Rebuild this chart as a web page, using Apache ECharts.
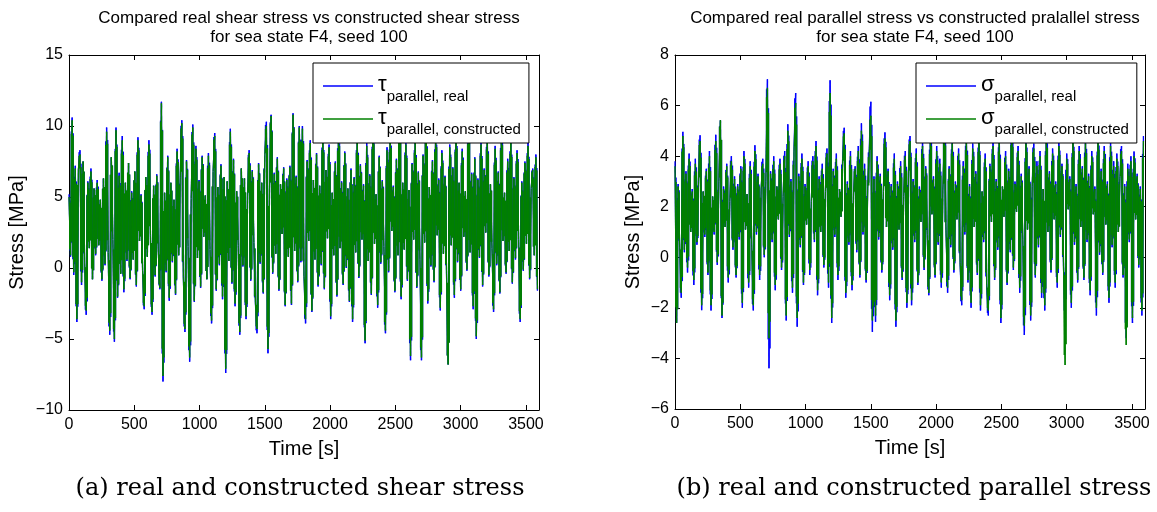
<!DOCTYPE html>
<html>
<head>
<meta charset="utf-8">
<title>Real vs constructed stress</title>
<script src="https://cdn.jsdelivr.net/npm/echarts@6/dist/echarts.min.js"></script>
<style>
  html, body { margin: 0; padding: 0; background: #fff; }
  #chart { width: 1157px; height: 512px; }
</style>
</head>
<body>
<div id="chart"></div>
<script>
const timeStep = 12

const shearReal = [
  5.2, 0.8, 10.6, -0.5, 7.2, -3.8, 6.9, 8.3, -1.2, 7.5, 0.3, -3.3, 6.1, 1.4, 7.0, -0.8, 5.6, 0.9, 6.2, 1.6,
  4.8, -0.9, 6.3, 0.2, 9.9, 1.1, -4.7, 7.8, 2.0, -5.2, 9.9, -2.1, 6.7, -0.4, 9.3, -1.7, 6.0, 0.5, 7.4, -0.8,
  5.4, 0.6, 6.8, -1.3, 9.2, 1.9, 5.2, -0.2, -2.9, 6.4, 0.8, 9.0, 2.3, -3.3, 5.8, -0.6, 6.6, 1.2, -1.5, 11.7,
  -8.0, 5.3, -0.3, 7.9, -2.3, 6.0, 0.4, 4.8, -1.9, 8.4, 0.9, 6.5, 10.4, -0.7, -4.5, 7.6, 1.5, -6.6, 4.9, 10.1,
  -2.4, 8.6, 0.7, 6.2, -1.4, 7.9, 2.2, 5.1, -0.8, 8.1, 1.3, -3.9, 6.8, 9.5, -1.6, 5.7, 0.2, 7.3, -2.2, 6.4,
  -7.4, 6.1, 0.5, 9.8, -1.1, 7.7, -2.7, 5.4, 1.6, -4.7, 7.0, 0.1, 6.3, -3.6, 5.0, 8.3, -0.9, 6.9, 1.8, -2.5,
  -4.6, 7.4, 0.3, 6.0, -1.8, 8.0, 10.3, -6.0, 5.5, 10.8, -0.4, 6.7, 1.0, 7.8, -1.6, 5.9, 2.4, 7.1, -2.7, 6.3,
  0.8, 7.2, -2.6, 10.9, 1.2, 6.5, -1.0, 10.0, 0.4, 10.0, -0.6, -3.9, 7.6, 1.9, 9.0, -3.1, 6.2, 0.6, 8.1, -1.3,
  5.8, 0.2, 9.4, -1.5, 6.9, 2.1, 8.7, -3.6, 5.3, 0.9, 7.5, -2.0, 9.6, 1.4, 6.1, -1.2, 8.2, 0.0, 5.6, -2.4,
  7.0, -3.8, 6.4, 1.1, 9.1, -0.7, 7.3, 2.0, 5.9, -5.3, 8.8, 0.5, 6.6, -1.9, 9.7, 1.7, 5.2, -2.8, 7.9, 0.3,
  6.2, 1.5, -4.6, 8.5, -0.3, 9.3, 2.6, 5.8, -1.7, 7.7, 0.9, 10.2, -2.2, 6.0, 1.3, 8.9, -0.9, 5.5, -6.5, 7.4,
  2.0, 9.0, -1.4, 6.8, 0.6, -6.5, 8.0, 1.8, 9.8, -2.5, 5.7, 0.1, 7.6, -1.0, 9.4, 2.3, 6.3, -3.0, 8.3, 1.0,
  6.5, -0.5, -6.8, 8.7, 1.6, 7.1, -2.1, 9.5, 0.4, 6.0, -1.6, 8.4, 2.2, 5.4, -0.2, 9.9, 1.1, 6.7, -2.9, 7.8,
  -5.0, 6.3, 0.7, 8.9, -1.3, 7.0, 2.5, 9.2, -0.6, 5.9, 1.4, -3.1, 8.6, 0.2, 6.8, -1.8, 9.6, 1.9, 5.3, -0.4,
  7.7, 1.2, 9.0, -1.1, 6.4, 0.6, 8.3, 2.0, -3.8, 6.1, -0.2, 7.5, 1.7, 8.8, -0.8, 5.6, 7.0, 0.9, 8.0, -1.6,
]

const shearConstructed = [
  5.0, 0.9, 10.4, -0.3, 7.0, -3.6, 6.9, 8.0, -1.0, 7.5, 0.4, -3.0, 6.0, 1.4, 6.8, -0.8, 5.6, 1.0, 6.0, 1.6,
  4.8, -0.8, 6.3, 0.3, 9.6, 1.1, -4.4, 7.8, 2.0, -5.0, 9.7, -2.0, 6.5, -0.4, 9.0, -1.5, 6.0, 0.6, 7.4, -0.7,
  5.3, 0.6, 6.8, -1.2, 9.0, 1.9, 5.1, -0.2, -2.7, 6.4, 0.8, 8.7, 2.3, -3.1, 5.8, -0.5, 6.5, 1.2, -1.4, 11.6,
  -7.6, 5.3, -0.2, 7.8, -2.1, 6.0, 0.5, 4.8, -1.8, 8.2, 0.9, 6.4, 10.2, -0.6, -4.3, 7.5, 1.5, -6.3, 4.9, 9.9,
  -2.3, 8.4, 0.7, 6.1, -1.3, 7.8, 2.2, 5.1, -0.8, 7.9, 1.3, -3.7, 6.8, 9.3, -1.5, 5.7, 0.3, 7.2, -2.0, 6.4,
  -7.1, 6.1, 0.5, 9.6, -1.0, 7.6, -2.5, 5.4, 1.6, -4.5, 7.0, 0.2, 6.3, -3.4, 5.0, 8.1, -0.8, 6.8, 1.8, -2.4,
  -4.3, 7.3, 0.4, 6.0, -1.7, 7.9, 10.0, -5.7, 5.5, 10.7, -0.3, 6.6, 1.0, 7.7, -1.5, 5.9, 2.4, 7.0, -2.6, 6.2,
  0.8, 7.1, -2.5, 10.8, 1.2, 6.4, -0.9, 9.9, 0.5, 9.8, -0.5, -3.6, 7.5, 1.9, 8.8, -3.0, 6.2, 0.6, 8.0, -1.2,
  5.8, 0.3, 9.2, -1.4, 6.9, 2.1, 8.5, -3.4, 5.3, 0.9, 7.4, -1.9, 9.4, 1.4, 6.0, -1.1, 8.1, 0.1, 5.6, -2.3,
  6.9, -3.6, 6.3, 1.1, 8.9, -0.6, 7.2, 2.0, 5.8, -5.1, 8.6, 0.5, 6.5, -1.8, 9.5, 1.7, 5.2, -2.6, 7.8, 0.4,
  6.1, 1.5, -4.4, 8.3, -0.2, 9.1, 2.6, 5.7, -1.6, 7.6, 0.9, 10.0, -2.0, 6.0, 1.3, 8.7, -0.8, 5.5, -6.2, 7.3,
  2.0, 8.8, -1.3, 6.7, 0.7, -6.3, 7.9, 1.8, 9.6, -2.3, 5.7, 0.2, 7.5, -0.9, 9.2, 2.3, 6.2, -2.8, 8.1, 1.0,
  6.4, -0.4, -6.8, 8.5, 1.6, 7.0, -1.9, 9.3, 0.5, 6.0, -1.5, 8.2, 2.2, 5.4, -0.1, 9.7, 1.1, 6.6, -2.7, 7.7,
  -4.8, 6.2, 0.8, 8.7, -1.2, 6.9, 2.5, 9.0, -0.5, 5.9, 1.4, -2.9, 8.4, 0.3, 6.7, -1.7, 9.4, 1.9, 5.3, -0.3,
  7.5, 1.2, 8.8, -1.0, 6.3, 0.7, 8.1, 2.0, -3.6, 6.0, -0.1, 7.4, 1.7, 8.6, -0.7, 5.6, 6.9, 0.9, 7.8, -1.5,
]

const parallelReal = [
  3.8, -2.6, 2.9, 0.4, -1.6, 4.96, 0.2, 3.4, -0.6, 4.1, 1.0, 2.7, -1.1, 3.9, 0.5, 3.1, 4.83, -2.09, 2.6, 0.8,
  3.5, -0.7, 4.2, -2.1, 2.4, 0.9, 4.85, -0.3, 3.0, 5.42, -2.4, 2.8, 1.2, 3.7, -1.0, 2.2, 4.0, 0.3, 3.2, -0.8,
  2.9, 0.7, 3.6, -2.0, 4.2, 1.1, 2.5, -1.2, 3.8, 0.4, -2.1, 4.43, 0.9, 3.3, -0.9, 2.7, 3.9, 0.0, 3.1, 7.04,
  -4.39, 3.4, 0.6, 4.0, -1.3, 2.8, 1.5, 3.9, -0.5, 2.4, 4.2, -2.5, 5.26, 0.8, 3.1, -1.4, 4.4, 6.5, -2.75, 3.3,
  0.4, 4.1, -1.1, 2.9, 1.3, 3.8, -0.7, 2.2, 4.0, 0.6, 4.6, -1.5, 3.2, 1.0, 3.7, -0.4, 2.6, 4.3, -1.2, 7.0,
  -2.6, 3.5, 0.8, 4.1, -0.9, 2.7, 1.6, 3.9, 5.12, -1.6, 3.0, 0.5, 4.2, -1.3, 2.5, 3.6, 0.2, 4.4, -0.8, 5.3,
  0.9, 3.7, -1.0, 2.8, 4.3, 6.15, -2.95, 3.2, -2.55, 4.0, 0.7, 3.3, -0.6, 2.6, 4.94, 1.2, 3.5, -1.7, 2.9, 0.3,
  4.1, -2.75, 3.0, 1.1, 3.8, -0.9, 2.4, 4.2, -2.0, 3.4, 4.8, -1.9, 3.1, 0.6, 4.3, -1.1, 2.8, 1.4, 4.6, -0.5,
  3.6, 0.8, -1.5, 4.9, 1.7, 3.2, -0.8, 4.4, 0.5, 3.9, -1.2, 2.7, 5.0, 1.0, -1.4, 3.6, 0.4, 4.7, -0.6, 3.0,
  1.5, 4.3, -0.3, -1.9, 3.8, 0.9, 4.8, -1.0, 2.9, -2.0, 4.5, 1.2, 3.4, -0.7, 4.9, -2.1, 2.6, 0.6, 4.1, -1.3,
  -2.3, 3.7, 1.4, 4.6, -0.9, 3.1, 0.3, 4.8, -2.6, 2.8, 1.6, 4.2, -1.1, 3.5, 0.2, 5.1, -0.5, 3.0, 1.8, 4.4,
  -1.4, 3.3, 0.7, -3.07, 4.7, 1.1, 3.6, -2.5, 2.9, 4.5, -0.8, 3.8, 0.4, 4.2, -1.6, 2.7, -2.1, 4.9, 1.0, 3.4,
  -0.6, 4.3, 1.5, 3.0, -1.2, 4.6, 0.8, 3.7, -0.4, -2.3, 4.1, 1.9, 3.2, -2.0, 4.8, 0.5, 2.9, -1.0, 4.4, 1.2,
  3.6, -0.9, 4.7, 0.6, 3.3, -1.5, 4.2, 1.7, 2.8, -2.3, 4.9, 0.1, 3.5, -0.7, 4.4, 1.3, 3.0, -1.8, 4.6, 0.4,
  3.8, -1.2, 4.1, 1.0, 3.2, 4.4, -0.8, 2.9, -3.2, 3.7, 0.6, 4.0, -2.6, 4.18, 1.5, 3.3, -0.4, 2.8, -2.3, 4.8,
]

const parallelConstructed = [
  3.6, -2.6, 2.8, 0.5, -1.4, 4.8, 0.3, 3.3, -0.4, 3.9, 1.0, 2.6, -0.9, 3.7, 0.6, 3.0, 4.6, -1.9, 2.6, 0.9,
  3.4, -0.6, 4.0, -1.9, 2.4, 1.0, 4.6, -0.2, 2.9, 5.42, -2.3, 2.7, 1.2, 3.6, -0.8, 2.2, 3.8, 0.4, 3.1, -0.7,
  2.8, 0.8, 3.5, -1.8, 4.0, 1.1, 2.5, -1.0, 3.6, 0.5, -1.9, 4.2, 1.0, 3.2, -0.7, 2.7, 3.7, 0.1, 3.0, 6.7,
  -3.2, 3.3, 0.7, 3.8, -1.1, 2.8, 1.5, 3.7, -0.4, 2.4, 4.0, -2.3, 5.0, 0.9, 3.0, -1.2, 4.2, 6.1, -2.4, 3.2,
  0.5, 3.9, -1.0, 2.8, 1.3, 3.6, -0.5, 2.2, 3.8, 0.7, 4.4, -1.3, 3.1, 1.0, 3.5, -0.3, 2.6, 4.1, -1.0, 6.5,
  -2.4, 3.4, 0.9, 3.9, -0.7, 2.7, 1.6, 3.7, 4.9, -1.4, 2.9, 0.6, 4.0, -1.1, 2.5, 3.5, 0.3, 4.2, -0.7, 5.0,
  1.0, 3.5, -0.9, 2.7, 4.1, 5.6, -2.5, 3.1, -2.3, 3.8, 0.8, 3.2, -0.5, 2.6, 4.7, 1.2, 3.4, -1.5, 2.8, 0.4,
  3.9, -2.5, 2.9, 1.1, 3.6, -0.8, 2.4, 4.0, -1.8, 3.3, 4.6, -1.7, 3.0, 0.7, 4.1, -1.0, 2.7, 1.4, 4.4, -0.4,
  3.5, 0.9, -1.4, 4.7, 1.7, 3.1, -0.7, 4.2, 0.6, 3.7, -1.0, 2.7, 4.8, 1.0, -1.2, 3.5, 0.5, 4.5, -0.5, 2.9,
  1.5, 4.1, -0.2, -1.7, 3.6, 1.0, 4.6, -0.9, 2.8, -1.8, 4.3, 1.2, 3.3, -0.6, 4.7, -1.9, 2.6, 0.7, 3.9, -1.1,
  -2.1, 3.6, 1.4, 4.4, -0.8, 3.0, 0.4, 4.6, -2.4, 2.8, 1.6, 4.0, -1.0, 3.4, 0.3, 4.9, -0.4, 2.9, 1.8, 4.2,
  -1.2, 3.2, 0.8, -2.7, 4.5, 1.1, 3.5, -2.3, 2.8, 4.3, -0.7, 3.6, 0.5, 4.0, -1.4, 2.7, -1.9, 4.7, 1.0, 3.3,
  -0.5, 4.1, 1.5, 2.9, -1.0, 4.4, 0.9, 3.6, -0.3, -4.26, 3.9, 1.9, 3.1, -1.8, 4.6, 0.6, 2.8, -0.9, 4.2, 1.2,
  3.5, -0.8, 4.5, 0.7, 3.2, -1.3, 4.0, 1.7, 2.7, -2.0, 4.7, 0.2, 3.4, -0.6, 4.2, 1.3, 2.9, -1.6, 4.4, 0.5,
  3.6, -1.0, 3.9, 1.0, 3.1, 4.2, -0.7, 2.8, -3.47, 3.5, 0.7, 3.8, -2.4, 4.0, 1.5, 3.2, -0.3, 2.7, -2.1, 4.6,
]

const seriesNames = ['tauReal', 'tauConstructed', 'sigmaReal', 'sigmaConstructed']
const legendSubs = {
  tauReal: ['τ', 'parallel, real'],
  tauConstructed: ['τ', 'parallel, constructed'],
  sigmaReal: ['σ', 'parallel, real'],
  sigmaConstructed: ['σ', 'parallel, constructed'],
}
const titles = [
  'Compared real shear stress vs constructed shear stress\nfor sea state F4, seed 100',
  'Compared real parallel stress vs constructed pralallel stress\nfor sea state F4, seed 100',
]
const captions = ['(a) real and constructed shear stress', '(b) real and constructed parallel stress']

const FONT = 'Liberation Sans, Arial, sans-serif'
const minusFmt = v => (v < 0 ? '\u2212' + Math.abs(v) : String(v))

// the recorded signal swings many times per pixel; each step between two
// samples is drawn as its line segment plus a solid core between the two values
const toSteps = arr => arr.slice(0, -1).map((v, i) => [i * timeStep, v, arr[i + 1]])
const CORE = 0.1

const grids = [
  { left: 69, top: 55, width: 470, height: 355 },
  { left: 675, top: 55, width: 470, height: 354 },
]
const yRanges = [
  { min: -10, max: 15, interval: 5 },
  { min: -6, max: 8, interval: 2 },
]

const lineAxis = { show: true, onZero: false, lineStyle: { color: '#000', width: 1 } }
const tickIn = { show: true, inside: true, length: 5, lineStyle: { color: '#000' } }

function xAxes(gi) {
  const base = { gridIndex: gi, type: 'value', min: 0, max: 3600, interval: 500, splitLine: { show: false }, axisLine: lineAxis, axisTick: tickIn }
  return [
    {
      ...base,
      position: 'bottom',
      name: 'Time [s]',
      nameLocation: 'middle',
      nameGap: 29,
      nameTextStyle: { fontFamily: FONT, fontSize: 20, color: '#000' },
      axisLabel: { fontFamily: FONT, fontSize: 16, color: '#000', margin: 7, showMaxLabel: false, formatter: v => String(v) },
    },
    { ...base, position: 'top', axisLabel: { show: false } },
  ]
}

function yAxes(gi, gap) {
  const base = { gridIndex: gi, type: 'value', ...yRanges[gi], splitLine: { show: false }, axisLine: lineAxis, axisTick: tickIn }
  return [
    {
      ...base,
      position: 'left',
      name: 'Stress [MPa]',
      nameLocation: 'middle',
      nameGap: gap,
      nameTextStyle: { fontFamily: FONT, fontSize: 20, color: '#000' },
      axisLabel: { fontFamily: FONT, fontSize: 16, color: '#000', margin: 6, formatter: minusFmt },
    },
    { ...base, position: 'right', axisLabel: { show: false } },
  ]
}

function legendFor(names, left) {
  return {
    data: names,
    left: left,
    top: 63,
    orient: 'vertical',
    selectedMode: false,
    backgroundColor: '#fff',
    borderColor: '#000',
    borderWidth: 1,
    borderRadius: 0,
    padding: [11, 8, 6, 10],
    itemGap: 3,
    itemWidth: 50,
    itemHeight: 1.5,
    icon: 'rect',
    formatter: name => '{g|' + legendSubs[name][0] + '}{s|' + legendSubs[name][1] + '}',
    textStyle: {
      rich: {
        g: { fontFamily: FONT, fontSize: 22, lineHeight: 24, verticalAlign: 'top', color: '#000' },
        s: { fontFamily: FONT, fontSize: 15, lineHeight: 18, padding: [15, 0, 0, 0], verticalAlign: 'top', color: '#000' },
      },
    },
  }
}

function stressSeries(name, values, gi, color) {
  return {
    name: name,
    type: 'custom',
    xAxisIndex: gi * 2,
    yAxisIndex: gi * 2,
    data: toSteps(values),
    encode: { x: 0, y: [1, 2] },
    silent: true,
    animation: false,
    itemStyle: { color: color },
    renderItem: (params, api) => {
      const a = api.coord([api.value(0), api.value(1)])
      const b = api.coord([api.value(0) + timeStep, api.value(2)])
      const top = Math.min(a[1], b[1])
      const h = Math.abs(b[1] - a[1])
      return {
        type: 'group',
        children: [
          {
            type: 'rect',
            shape: { x: a[0], y: top + h * CORE, width: b[0] - a[0] + 0.2, height: h * (1 - 2 * CORE) },
            style: { fill: color },
          },
          {
            type: 'line',
            shape: { x1: a[0], y1: a[1], x2: b[0], y2: b[1] },
            style: { stroke: color, lineWidth: 1.3 },
          },
        ],
      }
    },
  }
}

const chart = echarts.init(document.getElementById('chart'), null, { renderer: 'canvas' })
const option = {
  backgroundColor: '#fff',
  animation: false,
  title: [
    { text: titles[0], left: 304, top: 4, textAlign: 'center', textStyle: { fontFamily: FONT, fontSize: 17, fontWeight: 'normal', lineHeight: 19, color: '#000' } },
    { text: titles[1], left: 910, top: 4, textAlign: 'center', textStyle: { fontFamily: FONT, fontSize: 17, fontWeight: 'normal', lineHeight: 19, color: '#000' } },
    { text: captions[0], left: 295, top: 472, textAlign: 'center', textStyle: { fontFamily: 'DejaVu Serif, serif', fontSize: 24, fontWeight: 'normal', color: '#000' } },
    { text: captions[1], left: 909, top: 472, textAlign: 'center', textStyle: { fontFamily: 'DejaVu Serif, serif', fontSize: 24, fontWeight: 'normal', color: '#000' } },
  ],
  legend: [legendFor(seriesNames.slice(0, 2), 313), legendFor(seriesNames.slice(2), 916)],
  grid: grids,
  xAxis: [...xAxes(0), ...xAxes(1)],
  yAxis: [...yAxes(0, 42), ...yAxes(1, 32)],
  series: [
    stressSeries('tauReal', shearReal, 0, '#0000ff'),
    stressSeries('tauConstructed', shearConstructed, 0, '#008000'),
    stressSeries('sigmaReal', parallelReal, 1, '#0000ff'),
    stressSeries('sigmaConstructed', parallelConstructed, 1, '#008000'),
  ],
}
chart.setOption(option)
</script>
</body>
</html>
